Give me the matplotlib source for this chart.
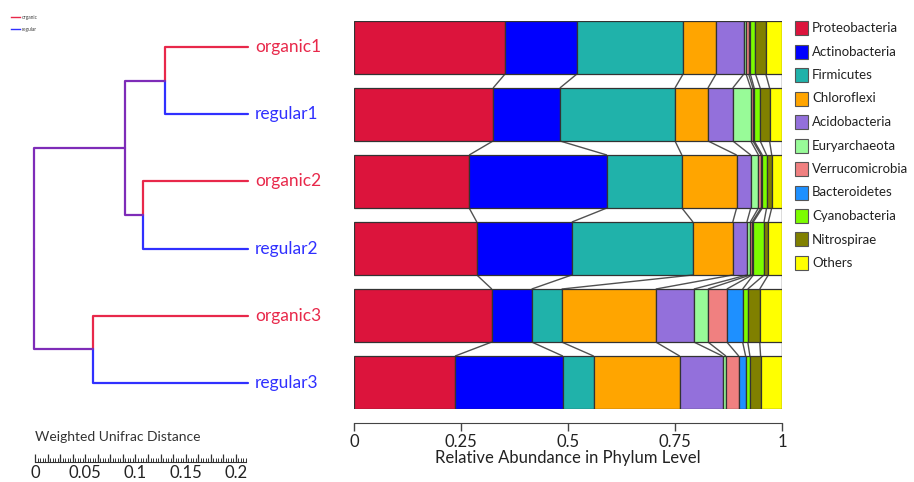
import matplotlib
matplotlib.use('Agg')
import matplotlib.pyplot as plt
from matplotlib.patches import Rectangle
from matplotlib.lines import Line2D
from matplotlib.ticker import MultipleLocator, FuncFormatter
import numpy as np

plt.rcParams['font.family'] = ['Lato', 'DejaVu Sans']

# ---- data ----
samples = ['organic1', 'regular1', 'organic2', 'regular2', 'organic3', 'regular3']
phyla = ['Proteobacteria', 'Actinobacteria', 'Firmicutes', 'Chloroflexi', 'Acidobacteria',
         'Euryarchaeota', 'Verrucomicrobia', 'Bacteroidetes', 'Cyanobacteria', 'Nitrospirae', 'Others']

proteobacteria = [0.353, 0.325, 0.269, 0.287, 0.322, 0.236]
actinobacteria = [0.168, 0.156, 0.322, 0.222, 0.093, 0.252]
firmicutes = [0.248, 0.269, 0.175, 0.283, 0.070, 0.072]
chloroflexi = [0.077, 0.077, 0.128, 0.093, 0.220, 0.201]
acidobacteria = [0.065, 0.058, 0.033, 0.033, 0.089, 0.100]
euryarchaeota = [0.005, 0.042, 0.018, 0.008, 0.033, 0.008]
verrucomicrobia = [0.006, 0.005, 0.006, 0.004, 0.044, 0.030]
bacteroidetes = [0.004, 0.003, 0.003, 0.003, 0.037, 0.016]
cyanobacteria = [0.012, 0.014, 0.010, 0.025, 0.012, 0.010]
nitrospirae = [0.024, 0.022, 0.012, 0.010, 0.028, 0.025]
others = [0.038, 0.029, 0.024, 0.032, 0.052, 0.050]

# hierarchical clustering (weighted unifrac): leaves 0-5, new nodes numbered from 6
merge_children = [(0, 1), (2, 3), (6, 7), (4, 5), (8, 9)]
merge_heights = [0.083, 0.104, 0.122, 0.154, 0.213]

colors = ['#DC143C', '#0000FF', '#20B2AA', '#FFA500', '#9370DB',
          '#98FB98', '#F08080', '#1E90FF', '#7CFC00', '#808000', '#FFFF00']
red, blue, purple = '#E8284A', '#3030FF', '#7E2CB8'

values = np.array([proteobacteria, actinobacteria, firmicutes, chloroflexi, acidobacteria,
                   euryarchaeota, verrucomicrobia, bacteroidetes, cyanobacteria, nitrospirae, others])

W, H = 914, 482
fig = plt.figure(figsize=(W / 100, H / 100), dpi=100)

def fbox(x0, y0, x1, y1):
    # pixel box -> figure fraction
    return [x0 / W, 1 - y1 / H, (x1 - x0) / W, (y1 - y0) / H]

n = len(samples)
ypos = np.arange(n)[::-1].astype(float)
h = 0.79

# ---- stacked bars ----
ax = fig.add_axes(fbox(354, 21, 782, 409))
cum = np.zeros(n)
ends = []
for vals, col in zip(values, colors):
    ax.barh(ypos, vals, left=cum, height=h, color=col, edgecolor='#333333', linewidth=0.9)
    cum = cum + vals
    ends.append(cum.copy())
ends = np.array(ends)

# connecting lines between neighbouring bars
for i in range(n - 1):
    for k in range(len(phyla)):
        ax.plot([ends[k, i], ends[k, i + 1]], [ypos[i] - h / 2, ypos[i + 1] + h / 2],
                color='#333333', lw=1.0, alpha=0.85, solid_capstyle='butt')

ax.set_xlim(0, 1)
ax.set_ylim(-h / 2, n - 1 + h / 2)
for s in ['top', 'left', 'right']:
    ax.spines[s].set_visible(False)
ax.spines['bottom'].set_position(('outward', 10))
ax.spines['bottom'].set_color('#444444')
ax.set_yticks([])
ax.set_xticks([0, 0.25, 0.5, 0.75, 1])
ax.set_xticklabels(['0', '0.25', '0.5', '0.75', '1'])
ax.tick_params(axis='x', length=6, width=1, color='#444444', labelsize=12,
               labelcolor='#222222', pad=2)
ax.set_xlabel('Relative Abundance in Phylum Level', fontsize=12, color='#222222', labelpad=0)

# ---- legend ----
for i, (name, col) in enumerate(zip(phyla, colors)):
    yc = 28 + i * 23.5
    fig.add_artist(Rectangle(((795) / W, 1 - (yc + 7) / H), 13 / W, 14 / H,
                             facecolor=col, edgecolor='#555555', lw=0.8,
                             transform=fig.transFigure))
    fig.text(812 / W, 1 - yc / H, name, fontsize=9.5, color='#222222', va='center', ha='left')

# ---- dendrogram ----
axd = fig.add_axes(fbox(20, 21, 250, 409))
axd.set_xlim((248 - 20) / 1005, (248 - 250) / 1005)
axd.set_ylim(-h / 2, n - 1 + h / 2)
axd.axis('off')

node_y = {i: ypos[i] for i in range(n)}
node_h = {i: 0.0 for i in range(n)}
for j, ((a, b), ht) in enumerate(zip(merge_children, merge_heights)):
    nid = n + j
    node_y[nid] = (node_y[a] + node_y[b]) / 2
    node_h[nid] = ht
    for c in (a, b):
        if c < n:
            col = red if samples[c].startswith('organic') else blue
        else:
            col = purple
        axd.plot([ht, ht, node_h[c]], [node_y[nid], node_y[c], node_y[c]],
                 color=col, lw=1.6, solid_joinstyle='round', solid_capstyle='round')

for i, name in enumerate(samples):
    col = red if name.startswith('organic') else blue
    axd.text(-0.007, ypos[i], name, color=col, fontsize=12.5, va='center', ha='left',
             clip_on=False)

# small group legend (top left)
fig.add_artist(Line2D([11 / W, 20 / W], [1 - 17 / H, 1 - 17 / H], color=red, lw=1))
fig.add_artist(Line2D([11 / W, 20 / W], [1 - 29 / H, 1 - 29 / H], color=blue, lw=1))
fig.text(22 / W, 1 - 17 / H, 'organic', fontsize=3.5, color='#444444', va='center')
fig.text(22 / W, 1 - 29 / H, 'regular', fontsize=3.5, color='#444444', va='center')

# ---- distance scale bar ----
axs = fig.add_axes(fbox(35, 452, 246, 462))
axs.set_xlim(0, 0.21)
axs.set_yticks([])
for s in ['top', 'left', 'right']:
    axs.spines[s].set_visible(False)
axs.patch.set_visible(False)
axs.spines['bottom'].set_color('#333333')
axs.xaxis.set_major_locator(MultipleLocator(0.0125))
axs.xaxis.set_minor_locator(MultipleLocator(0.0025))
axs.xaxis.set_major_formatter(FuncFormatter(
    lambda v, p: f'{round(v, 4):g}' if abs(v / 0.05 - round(v / 0.05)) < 1e-6 else ''))
axs.tick_params(axis='x', which='major', direction='in', length=6, width=0.9,
                color='#333333', labelsize=12, labelcolor='#222222', pad=2)
axs.tick_params(axis='x', which='minor', direction='in', length=3, width=0.7, color='#333333')
fig.text(35 / W, 1 - 437 / H, 'Weighted Unifrac Distance', fontsize=10, color='#333333',
         va='center', ha='left')

plt.savefig('out.png', dpi=100)
